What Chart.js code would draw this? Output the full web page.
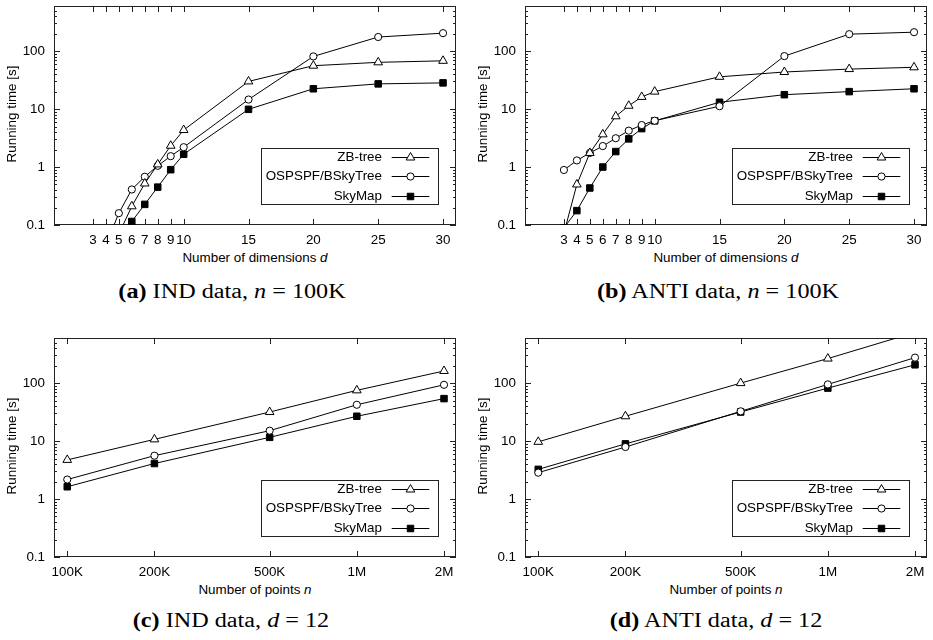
<!DOCTYPE html>
<html><head><meta charset="utf-8">
<script src="https://cdn.jsdelivr.net/npm/chart.js@4/dist/chart.umd.min.js"></script>
<style>
html,body{margin:0;padding:0;background:#fff}
body{width:933px;height:640px;position:relative;overflow:hidden}
canvas{position:absolute}
.t{position:absolute;font-family:"Liberation Sans",Arial,sans-serif;font-size:13.4px;line-height:16px;height:16px;white-space:nowrap;text-align:center;color:#000}
.yt{width:200px;transform:rotate(-90deg)}
.cap{position:absolute;font-family:"Liberation Serif","Times New Roman",serif;font-size:20.5px;line-height:24px;white-space:nowrap;color:#000;transform:translateX(-50%) scaleX(1.18)}
</style></head>
<body>
<canvas id="ca" width="462" height="250" style="left:0;top:0"></canvas>
<canvas id="cb" width="462" height="250" style="left:471px;top:0"></canvas>
<canvas id="cc" width="462" height="250" style="left:0;top:332px"></canvas>
<canvas id="cd" width="462" height="250" style="left:471px;top:332px"></canvas>

<div class="t yt" style="left:-88.5px;top:105.5px">Running time [s]</div>
<div class="t yt" style="left:382.5px;top:105.5px">Running time [s]</div>
<div class="t yt" style="left:-88.5px;top:437.5px">Running time [s]</div>
<div class="t yt" style="left:382.5px;top:437.5px">Running time [s]</div>

<div class="t" style="left:54px;width:402px;top:250px">Number of dimensions <i>d</i></div>
<div class="t" style="left:525px;width:402px;top:250px">Number of dimensions <i>d</i></div>
<div class="t" style="left:54px;width:402px;top:582px">Number of points <i>n</i></div>
<div class="t" style="left:525px;width:402px;top:582px">Number of points <i>n</i></div>

<div class="cap" style="left:232px;top:279px"><b>(a)</b> IND data, <i>n</i> = 100K</div>
<div class="cap" style="left:718px;top:279px"><b>(b)</b> ANTI data, <i>n</i> = 100K</div>
<div class="cap" style="left:231px;top:608px"><b>(c)</b> IND data, <i>d</i> = 12</div>
<div class="cap" style="left:716px;top:608px"><b>(d)</b> ANTI data, <i>d</i> = 12</div>

<script>
// ---------- data ----------
const seriesNames = ['ZB-tree', 'OSPSPF/BSkyTree', 'SkyMap'];

const dimTicks = [3, 4, 5, 6, 7, 8, 9, 10, 15, 20, 25, 30];
const dimTickLabels = ['3', '4', '5', '6', '7', '8', '9', '10', '15', '20', '25', '30'];
const pointTicks = [100000, 200000, 500000, 1000000, 2000000];
const pointTickLabels = ['100K', '200K', '500K', '1M', '2M'];
const yTickValues = [0.1, 1, 10, 100];
const yTickLabels = ['0.1', '1', '10', '100'];

// (a) IND data, n = 100K
const aDimsZB = [5, 6, 7, 8, 9, 10, 15, 20, 25, 30];
const aZB = [0.07, 0.21, 0.52, 1.11, 2.33, 4.35, 30, 56, 64, 68];
const aDimsOS = [4, 5, 6, 7, 8, 9, 10, 15, 20, 25, 30];
const aOS = [0.045, 0.16, 0.41, 0.68, 1.05, 1.54, 2.2, 14.6, 81, 175, 204];
const aDimsSM = [5, 6, 7, 8, 9, 10, 15, 20, 25, 30];
const aSM = [0.055, 0.115, 0.227, 0.45, 0.9, 1.66, 9.9, 22.4, 27.2, 28.3];

// (b) ANTI data, n = 100K
const bDims = [3, 4, 5, 6, 7, 8, 9, 10, 15, 20, 25, 30];
const bZB = [0.072, 0.5, 1.75, 3.66, 7.5, 11.4, 16.2, 20, 36, 43.6, 49, 52.5];
const bOS = [0.89, 1.3, 1.75, 2.3, 3.14, 4.24, 5.3, 6.3, 11.2, 82, 196, 212];
const bSM = [0.089, 0.177, 0.435, 1.0, 1.85, 3.06, 4.6, 6.26, 13.1, 17.7, 20, 22.4];

// (c) IND data, d = 12 ; (d) ANTI data, d = 12
const nPoints = [100000, 200000, 500000, 1000000, 2000000];
const cZB = [4.73, 10.7, 31.7, 75, 162];
const cOS = [2.17, 5.6, 15.1, 42.3, 93.5];
const cSM = [1.63, 4.1, 11.6, 26.8, 54];
const dZB = [9.7, 26.8, 100, 265, 750];
const dOS = [2.85, 7.9, 32.6, 95, 275];
const dSM = [3.25, 8.95, 31.7, 82, 207];

const yMin = 0.1, yMax = 600;

// ---------- helpers ----------
const FONT = '"Liberation Sans", Arial, sans-serif';
const styles = [
  {pointStyle: 'triangle', radius: 5, fill: '#fff'},
  {pointStyle: 'circle', radius: 3.6, fill: '#fff'},
  {pointStyle: 'rect', radius: 4.6, fill: '#000'}
];

function pts(xs, ys) { return xs.map((x, i) => ({x: x, y: ys[i]})); }

function logMinorTicks(min, max) {
  const out = [];
  for (let e = -2; e <= 4; e++) {
    for (let k = 1; k <= 9; k++) {
      const v = +(k * Math.pow(10, e)).toPrecision(6);
      if (v >= min * (1 - 1e-9) && v <= max * (1 + 1e-9)) out.push({value: v, major: k === 1});
    }
  }
  return out;
}

function drawMarker(ctx, st, x, y) {
  ctx.save();
  ctx.fillStyle = st.fill; ctx.strokeStyle = '#000'; ctx.lineWidth = 1;
  ctx.beginPath();
  const r = st.radius;
  if (st.pointStyle === 'circle') {
    ctx.arc(x, y, r, 0, Math.PI * 2);
  } else if (st.pointStyle === 'rect') {
    const s = Math.SQRT1_2 * r;
    ctx.rect(x - s, y - s, 2 * s, 2 * s);
  } else {
    let a = 0;
    ctx.moveTo(x + Math.sin(a) * r, y - Math.cos(a) * r);
    a += 2 * Math.PI / 3; ctx.lineTo(x + Math.sin(a) * r, y - Math.cos(a) * r);
    a += 2 * Math.PI / 3; ctx.lineTo(x + Math.sin(a) * r, y - Math.cos(a) * r);
    ctx.closePath();
  }
  ctx.fill(); ctx.stroke();
  ctx.restore();
}

const framePlugin = {
  id: 'frame',
  beforeDatasetsDraw(chart) {
    const {ctx, chartArea: a, scales: {x, y}} = chart;
    ctx.save();
    ctx.strokeStyle = '#222'; ctx.lineWidth = 1;
    ctx.beginPath();
    x.ticks.forEach(t => {
      const px = Math.round(x.getPixelForValue(t.value)) + 0.5;
      ctx.moveTo(px, a.bottom); ctx.lineTo(px, a.bottom - 6);
      ctx.moveTo(px, a.top); ctx.lineTo(px, a.top + 6);
    });
    y.ticks.forEach(t => {
      const py = Math.round(y.getPixelForValue(t.value)) + 0.5;
      const L = t.major ? 6 : 3;
      ctx.moveTo(a.left, py); ctx.lineTo(a.left + L, py);
      ctx.moveTo(a.right, py); ctx.lineTo(a.right - L, py);
    });
    ctx.stroke();
    ctx.strokeRect(Math.round(a.left) + 0.5, Math.round(a.top) + 0.5,
                   Math.round(a.right - a.left) - 1, Math.round(a.bottom - a.top) - 1);
    ctx.restore();
  }
};

const legendPlugin = {
  id: 'boxLegend',
  afterDraw(chart) {
    const {ctx, chartArea: a} = chart;
    const R = a.right - 18.7, B = a.bottom - 21, W = 176.7, H = 56.3;
    const L = R - W, T = B - H;
    ctx.save();
    ctx.strokeStyle = '#222'; ctx.lineWidth = 1;
    ctx.strokeRect(Math.round(L) + 0.5, Math.round(T) + 0.5, Math.round(W), Math.round(H));
    ctx.font = '13.4px ' + FONT;
    ctx.textAlign = 'right'; ctx.textBaseline = 'middle'; ctx.fillStyle = '#000';
    chart.data.datasets.forEach((ds, i) => {
      const yy = Math.round(T + 9.3 + i * 19.3) + 0.5;
      ctx.fillText(ds.label, R - 55.3, yy);
      ctx.beginPath(); ctx.strokeStyle = '#000';
      ctx.moveTo(R - 45.6, yy); ctx.lineTo(R - 8, yy); ctx.stroke();
      drawMarker(ctx, styles[i], R - 26.8, yy);
    });
    ctx.restore();
  }
};

function makeChart(id, xType, xMin, xMax, xTickVals, xTickLabels, seriesPts) {
  const datasets = seriesPts.map((d, i) => ({
    label: seriesNames[i],
    data: d,
    borderColor: '#000',
    borderWidth: 1,
    backgroundColor: styles[i].fill,
    pointStyle: styles[i].pointStyle,
    pointRadius: styles[i].radius,
    pointBackgroundColor: styles[i].fill,
    pointBorderColor: '#000',
    pointBorderWidth: 1,
    tension: 0,
    fill: false
  }));
  return new Chart(document.getElementById(id), {
    type: 'line',
    data: {datasets},
    options: {
      responsive: false, animation: false, devicePixelRatio: 1,
      layout: {padding: {top: 2, right: 6, left: 0, bottom: 0}},
      plugins: {legend: {display: false}, tooltip: {enabled: false}},
      scales: {
        x: {
          type: xType, min: xMin, max: xMax,
          grid: {display: false, drawTicks: false}, border: {display: false},
          afterBuildTicks: s => { s.ticks = xTickVals.map(v => ({value: v})); },
          afterFit: s => { s.height = 25; s.paddingLeft = 0; s.paddingRight = 0; },
          ticks: {
            autoSkip: false, maxRotation: 0, minRotation: 0, padding: 7, color: '#000',
            font: {family: FONT, size: 13.4},
            callback: (v, i) => xTickLabels[i]
          }
        },
        y: {
          type: 'logarithmic', min: yMin, max: yMax,
          grid: {display: false, drawTicks: false}, border: {display: false},
          afterBuildTicks: s => { s.ticks = logMinorTicks(yMin, yMax); },
          afterFit: s => { s.width = 54; s.paddingTop = 0; s.paddingBottom = 0; },
          ticks: {
            autoSkip: false, padding: 9, color: '#000',
            font: {family: FONT, size: 13.4},
            callback: v => {
              const k = yTickValues.findIndex(t => Math.abs(t - v) / t < 1e-6);
              return k >= 0 ? yTickLabels[k] : '';
            }
          }
        }
      }
    },
    plugins: [framePlugin, legendPlugin]
  });
}

makeChart('ca', 'linear', 0, 31, dimTicks, dimTickLabels,
  [pts(aDimsZB, aZB), pts(aDimsOS, aOS), pts(aDimsSM, aSM)]);
makeChart('cb', 'linear', 0, 31, dimTicks, dimTickLabels,
  [pts(bDims, bZB), pts(bDims, bOS), pts(bDims, bSM)]);
makeChart('cc', 'logarithmic', 90000, 2200000, pointTicks, pointTickLabels,
  [pts(nPoints, cZB), pts(nPoints, cOS), pts(nPoints, cSM)]);
makeChart('cd', 'logarithmic', 90000, 2200000, pointTicks, pointTickLabels,
  [pts(nPoints, dZB), pts(nPoints, dOS), pts(nPoints, dSM)]);
</script>
</body></html>
